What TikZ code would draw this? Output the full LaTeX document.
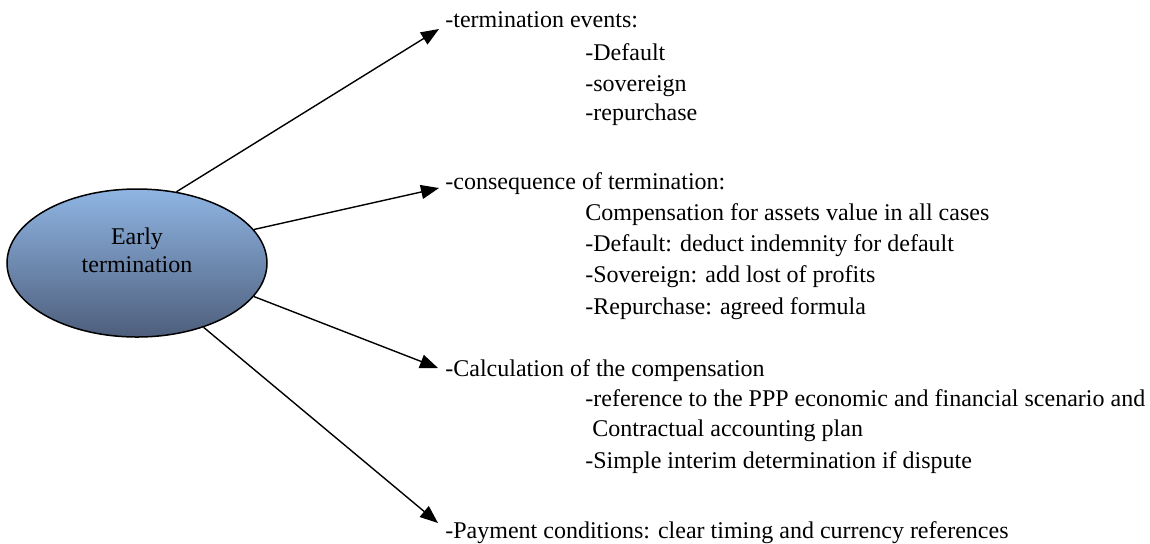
\documentclass[tikz,border=0pt]{standalone}
\usepackage{fontspec}
\setmainfont{Liberation Serif}
\usetikzlibrary{arrows.meta}
\usetikzlibrary{shapes.geometric}

\begin{document}
\begin{tikzpicture}[x=0.5pt,y=-0.5pt,
    txt/.style={anchor=base west, inner sep=0pt, font=\fontsize{12}{14}\selectfont},
    topic/.style={ellipse, draw, line width=0.75pt, inner sep=0pt,
      minimum width=130pt, minimum height=74pt,
      top color={rgb,255:red,143;green,181;blue,227},
      bottom color={rgb,255:red,78;green,94;blue,124}},
    link/.style={-{Triangle[length=9pt,width=7pt]}, line width=0.7pt}]
  \useasboundingbox (0,0) rectangle (1150,543);

  \node[topic] (early) at (137,263) {};
  \node[align=center, inner sep=0pt, font=\fontsize{12}{14}\selectfont] (earlytext) at (137,250) {Early\\termination};

  % termination events
  \node[txt] (events) at (445,27) {-termination events:};
  \node[txt] (evdefault) at (585,60) {-Default};
  \node[txt] (evsovereign) at (585,91) {-sovereign};
  \node[txt] (evrepurchase) at (585,120) {-repurchase};

  % consequences
  \node[txt] (conseq) at (445,189) {-consequence of termination:};
  \node[txt] (coassets) at (585,220) {Compensation for assets value in all cases};
  \node[txt] (codefault) at (585,251) {-Default: deduct indemnity for default};
  \node[txt] (cosovereign) at (585,282) {-Sovereign: add lost of profits};
  \node[txt] (corepurchase) at (585,314) {-Repurchase: agreed formula};

  % calculation
  \node[txt] (calc) at (445,376) {-Calculation of the compensation};
  \node[txt] (careference) at (585,406) {-reference to the PPP economic and financial scenario and};
  \node[txt] (caplan) at (592,436) {Contractual accounting plan};
  \node[txt] (cainterim) at (585,468) {-Simple interim determination if dispute};

  % payment
  \node[txt] (payment) at (445,538) {-Payment conditions: clear timing and currency references};

  \coordinate (tipevents) at (439,29);
  \coordinate (tipconseq) at (439,188);
  \coordinate (tipcalc) at (438,368);
  \coordinate (tippayment) at (438,523);

  \draw[link] (early.61) -- (tipevents);
  \draw[link] (early.16) -- (tipconseq);
  \draw[link] (early.-16) -- (tipcalc);
  \draw[link] (early.-44) -- (tippayment);
\end{tikzpicture}
\end{document}
